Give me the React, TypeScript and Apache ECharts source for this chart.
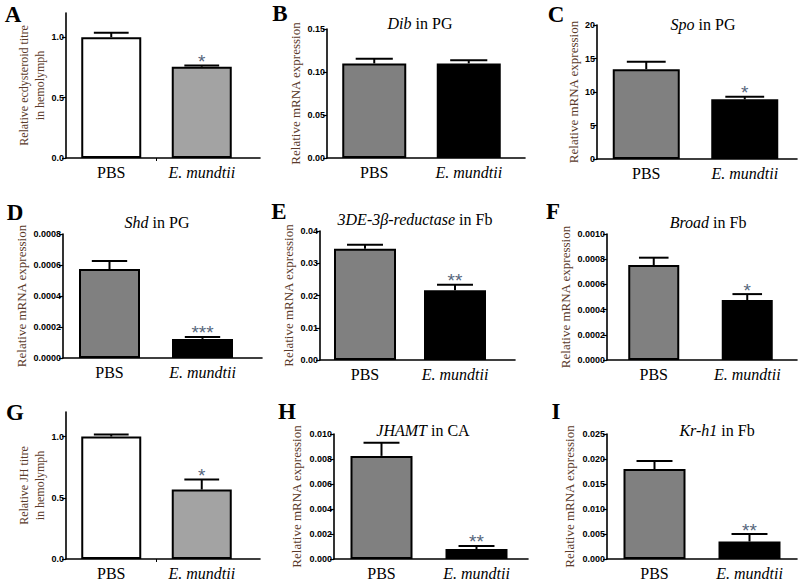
import React, { useEffect, useRef } from 'react';
import * as echarts from 'echarts';

// ---------- data ----------
const categories = ['PBS', 'E. mundtii'];

const ecdysteroidTitre = [1.0, 0.756];
const ecdysteroidTitreErrTop = [1.037, 0.765];
const ecdysteroidSig = ['', '*'];

const dibPG = [0.110, 0.110];
const dibPGErrTop = [0.1155, 0.1136];
const dibSig = ['', ''];

const spoPG = [13.4, 8.9];
const spoPGErrTop = [14.5, 9.3];
const spoSig = ['', '*'];

const shdPG = [0.000574, 0.000123];
const shdPGErrTop = [0.000626, 0.000136];
const shdSig = ['', '***'];

const reductaseFb = [0.0345, 0.0216];
const reductaseFbErrTop = [0.0357, 0.0233];
const reductaseSig = ['', '**'];

const broadFb = [0.000754, 0.000476];
const broadFbErrTop = [0.000812, 0.000523];
const broadSig = ['', '*'];

const jhTitre = [1.0, 0.567];
const jhTitreErrTop = [1.016, 0.65];
const jhSig = ['', '*'];

const jhamtCA = [0.00825, 0.0008];
const jhamtCAErrTop = [0.0093, 0.00105];
const jhamtSig = ['', '**'];

const krh1Fb = [0.018, 0.0035];
const krh1FbErrTop = [0.0196, 0.005];
const krh1Sig = ['', '**'];

// ---------- styling / layout ----------
const SERIF = 'Liberation Serif';
const SANS = 'Liberation Sans';
const NAME_COLOR = '#5a3a2a';
const SIG_COLOR = '#56667c';
const WHITE = '#ffffff';
const LIGHT = '#a3a3a3';
const MID = '#808080';
const BLACK = '#000000';

type Panel = {
  letter: string; lx: number; ly: number;
  title?: string; tx?: number; ty?: number;
  left: number; top: number; unit: number; axisEnd: number; height: number;
  max: number; interval: number; decimals: number; labelValues?: number[];
  yName: string; nameGap: number; nameSize: number;
  mean: number[]; errTop: number[]; sig: string[];
  colors: string[]; barWidth: number; xTick?: boolean;
};

const MRNA = 'Relative mRNA expression';

const panels: Panel[] = [
  { letter: 'A', lx: 13, ly: 14, left: 66, top: 13, unit: 90.5, axisEnd: 260, height: 145, max: 1.2, interval: 0.5, decimals: 1, labelValues: [0, 0.5, 1.0],
    yName: 'Relative ecdysteroid titre\nin hemolymph', nameGap: 18, nameSize: 12, mean: ecdysteroidTitre, errTop: ecdysteroidTitreErrTop, sig: ecdysteroidSig, colors: [WHITE, LIGHT], barWidth: 60, xTick: true },
  { letter: 'B', lx: 280, ly: 13, title: '{i|Dib} {n|in PG}', tx: 420, ty: 23, left: 327, top: 29, unit: 94.5, axisEnd: 525, height: 129, max: 0.15, interval: 0.05, decimals: 2,
    yName: MRNA, nameGap: 24, nameSize: 13, mean: dibPG, errTop: dibPGErrTop, sig: dibSig, colors: [MID, BLACK], barWidth: 64 },
  { letter: 'C', lx: 556, ly: 14, title: '{i|Spo} {n|in PG}', tx: 703, ty: 24, left: 597, top: 25, unit: 98.5, axisEnd: 797, height: 134, max: 20, interval: 5, decimals: 0,
    yName: MRNA, nameGap: 14, nameSize: 13, mean: spoPG, errTop: spoPGErrTop, sig: spoSig, colors: [MID, BLACK], barWidth: 67 },
  { letter: 'D', lx: 15, ly: 212, title: '{i|Shd} {n|in PG}', tx: 157, ty: 222, left: 63, top: 234, unit: 93, axisEnd: 262, height: 124, max: 0.0008, interval: 0.0002, decimals: 4,
    yName: MRNA, nameGap: 28, nameSize: 13, mean: shdPG, errTop: shdPGErrTop, sig: shdSig, colors: [MID, BLACK], barWidth: 61 },
  { letter: 'E', lx: 279, ly: 211, title: '{i|3DE-3β-reductase} {n|in Fb}', tx: 415, ty: 219, left: 320, top: 231, unit: 90, axisEnd: 515, height: 129, max: 0.04, interval: 0.01, decimals: 2,
    yName: MRNA, nameGap: 19, nameSize: 13, mean: reductaseFb, errTop: reductaseFbErrTop, sig: reductaseSig, colors: [MID, BLACK], barWidth: 62 },
  { letter: 'F', lx: 553, ly: 211, title: '{i|Broad} {n|in Fb}', tx: 708, ty: 222, left: 607, top: 234, unit: 93.5, axisEnd: 797, height: 126, max: 0.001, interval: 0.0002, decimals: 4,
    yName: MRNA, nameGap: 28, nameSize: 13, mean: broadFb, errTop: broadFbErrTop, sig: broadSig, colors: [MID, BLACK], barWidth: 51 },
  { letter: 'G', lx: 15, ly: 412, left: 66, top: 412, unit: 90.5, axisEnd: 260, height: 148, max: 1.2, interval: 0.5, decimals: 1, labelValues: [0, 0.5, 1.0],
    yName: 'Relative JH titre\nin hemolymph', nameGap: 17, nameSize: 12, mean: jhTitre, errTop: jhTitreErrTop, sig: jhSig, colors: [WHITE, LIGHT], barWidth: 60, xTick: true },
  { letter: 'H', lx: 287, ly: 411, title: '{i|JHAMT} {n|in CA}', tx: 423, ty: 430, left: 334, top: 434, unit: 95, axisEnd: 528, height: 126, max: 0.01, interval: 0.002, decimals: 3,
    yName: MRNA, nameGap: 30, nameSize: 13, mean: jhamtCA, errTop: jhamtCAErrTop, sig: jhamtSig, colors: [MID, BLACK], barWidth: 62 },
  { letter: 'I', lx: 556, ly: 411, title: '{i|Kr-h1} {n|in Fb}', tx: 717, ty: 430, left: 607, top: 434, unit: 95, axisEnd: 797, height: 126, max: 0.025, interval: 0.005, decimals: 3,
    yName: MRNA, nameGap: 30, nameSize: 13, mean: krh1Fb, errTop: krh1FbErrTop, sig: krh1Sig, colors: [MID, BLACK], barWidth: 62 },
];

function buildOption(): any {
  const grid: any[] = [];
  const xAxis: any[] = [];
  const yAxis: any[] = [];
  const series: any[] = [];
  const graphic: any[] = [];

  panels.forEach((p, k) => {
    const width = p.axisEnd - p.left;
    const xMin = -0.5;
    const xMax = width / p.unit - 0.5;
    grid.push({ left: p.left, top: p.top, width, height: p.height, containLabel: false });
    // main x axis: axis line + upright "PBS" label (positions 0, 1 = category indices)
    xAxis.push({
      type: 'value', gridIndex: k, min: xMin, max: xMax,
      axisLine: { show: true, onZero: false, lineStyle: { color: '#000', width: 1.6 } },
      axisTick: { show: !!p.xTick, customValues: [0.5], length: 3, lineStyle: { color: '#000', width: 1 } },
      axisLabel: {
        margin: 6, fontFamily: SERIF, fontSize: 16, fontStyle: 'normal', color: '#000',
        customValues: [0],
        formatter: (v: number) => categories[Math.round(v)] ?? '',
      },
      splitLine: { show: false },
    });
    // overlay axis for the italic species label
    xAxis.push({
      type: 'value', gridIndex: k, min: xMin, max: xMax, position: 'bottom',
      axisLine: { show: false, onZero: false }, axisTick: { show: false },
      axisLabel: {
        margin: 6, fontFamily: SERIF, fontSize: 16, fontStyle: 'italic', color: '#000',
        customValues: [1],
        formatter: (v: number) => categories[Math.round(v)] ?? '',
      },
      splitLine: { show: false },
    });
    const yCfg: any = {
      type: 'value', gridIndex: k, min: 0, max: p.max, interval: p.interval,
      name: p.yName, nameLocation: 'middle', nameGap: p.nameGap,
      nameTextStyle: { fontFamily: SERIF, fontSize: p.nameSize, color: NAME_COLOR, lineHeight: 16 },
      axisLine: { show: true, onZero: false, lineStyle: { color: '#000', width: 1.6 } },
      axisTick: { show: true, length: 4, lineStyle: { color: '#000', width: 1.2 } },
      axisLabel: {
        margin: 2, fontFamily: SANS, fontWeight: 'bold', fontSize: 9, color: '#000',
        formatter: (v: number) => v.toFixed(p.decimals),
      },
      splitLine: { show: false },
    };
    if (p.labelValues) {
      yCfg.axisLabel.customValues = p.labelValues;
      yCfg.axisTick.customValues = p.labelValues;
    }
    yAxis.push(yCfg);

    series.push({
      type: 'bar', xAxisIndex: 2 * k, yAxisIndex: k, barWidth: p.barWidth,
      itemStyle: { borderColor: '#000', borderWidth: 2 },
      data: p.mean.map((v, i) => ({ value: [i, v], itemStyle: { color: p.colors[i] } })),
      z: 2,
    });

    const cap = p.barWidth * 0.29;
    series.push({
      type: 'custom', xAxisIndex: 2 * k, yAxisIndex: k, z: 3,
      data: p.mean.map((v, i) => [i, v, p.errTop[i]]),
      renderItem: (params: any, api: any) => {
        const idx = api.value(0);
        const base = api.coord([idx, api.value(1)]);
        const top = api.coord([idx, api.value(2)]);
        const x = base[0];
        const children: any[] = [
          { type: 'line', shape: { x1: x, y1: base[1], x2: x, y2: top[1] }, style: { stroke: '#000', lineWidth: 2 } },
          { type: 'line', shape: { x1: x - cap, y1: top[1], x2: x + cap, y2: top[1] }, style: { stroke: '#000', lineWidth: 2 } },
        ];
        const s = p.sig[params.dataIndex];
        if (s) {
          children.push({
            type: 'text', x, y: top[1] - 4,
            style: { text: s, textAlign: 'center', textVerticalAlign: 'middle', fontFamily: SANS, fontSize: 19, fill: SIG_COLOR },
          });
        }
        return { type: 'group', children };
      },
    });

    graphic.push({
      type: 'text', x: p.lx, y: p.ly,
      style: { text: p.letter, textAlign: 'center', textVerticalAlign: 'middle', fontFamily: SERIF, fontWeight: 'bold', fontSize: 23, fill: '#000' },
    });
    if (p.title) {
      graphic.push({
        type: 'text', x: p.tx, y: p.ty,
        style: {
          text: p.title, textAlign: 'center', textVerticalAlign: 'middle', fontFamily: SERIF, fontSize: 16, fill: '#000',
          rich: {
            i: { fontFamily: SERIF, fontSize: 16, fontStyle: 'italic', fill: '#000' },
            n: { fontFamily: SERIF, fontSize: 16, fill: '#000' },
          },
        },
      });
    }
  });

  return {
    animation: false, backgroundColor: '#ffffff',
    textStyle: { fontFamily: SERIF },
    grid, xAxis, yAxis, series, graphic,
  };
}

export default function App() {
  const ref = useRef<HTMLDivElement>(null);
  useEffect(() => {
    if (!ref.current) return;
    const chart = echarts.init(ref.current, undefined, { renderer: 'svg' });
    chart.setOption(buildOption());
    return () => chart.dispose();
  }, []);
  return <div ref={ref} style={{ position: 'fixed', left: 0, top: 0, width: 800, height: 581, background: '#fff' }} />;
}
